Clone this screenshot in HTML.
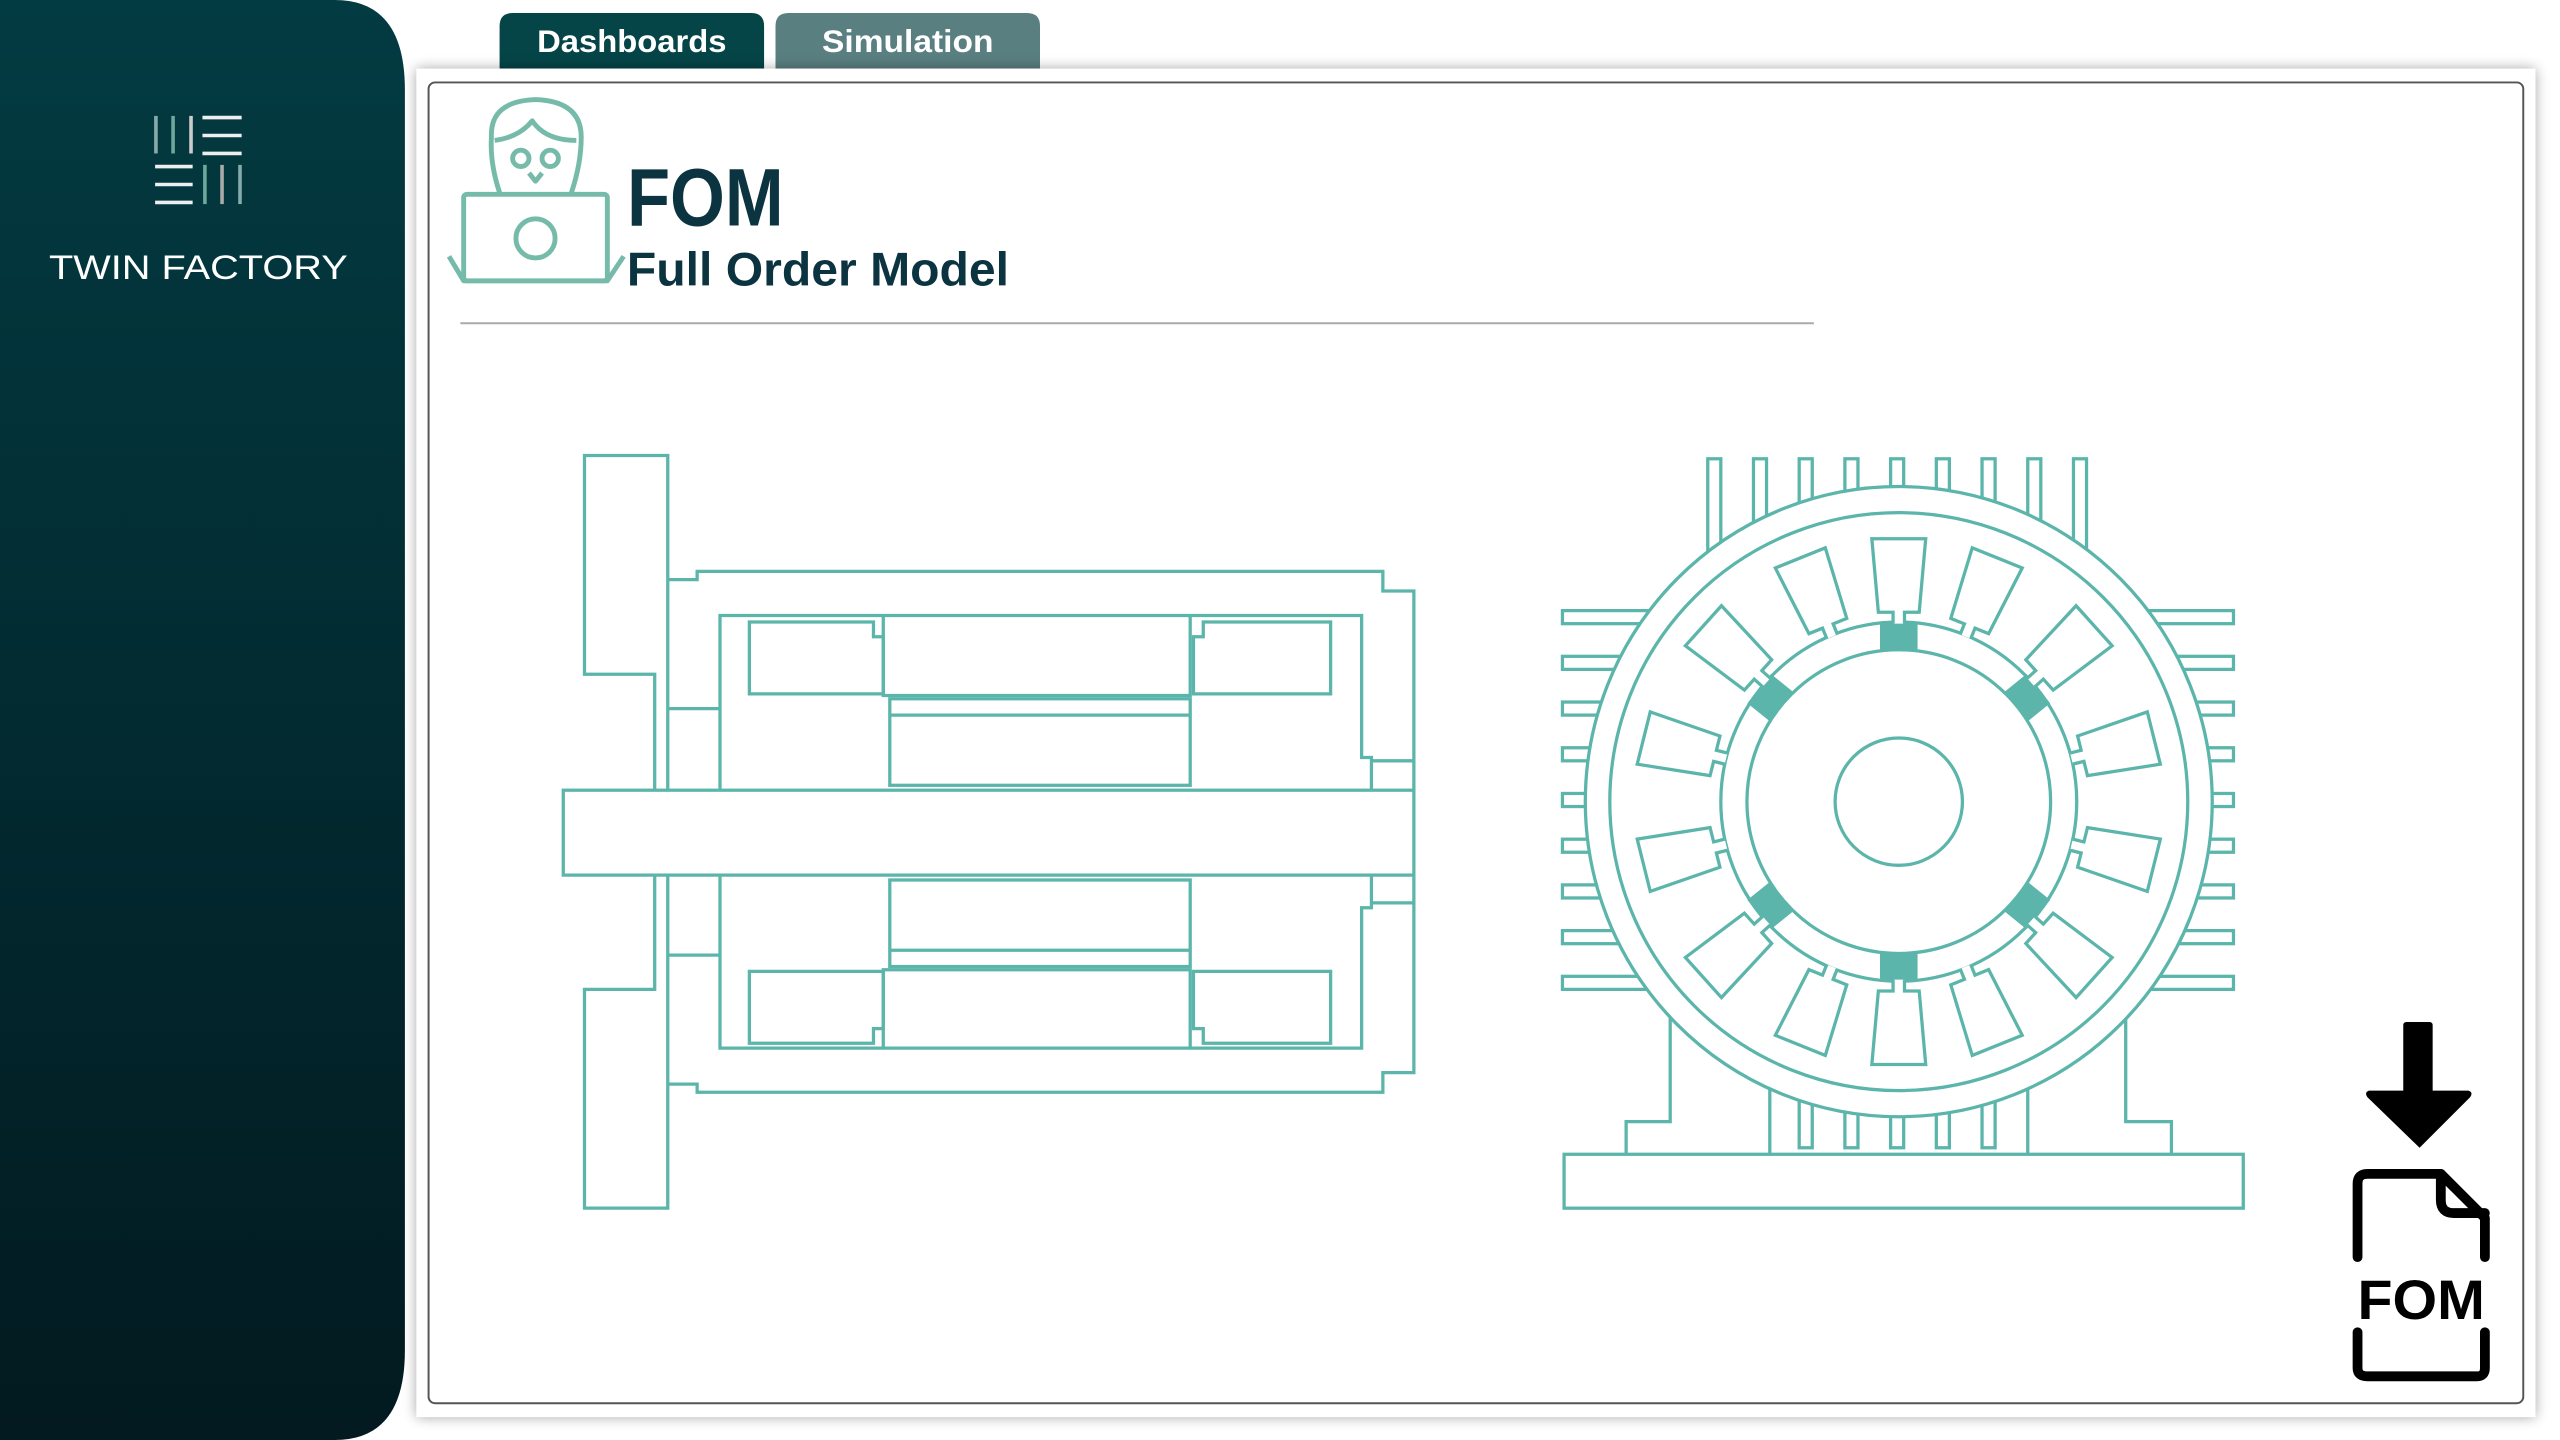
<!DOCTYPE html>
<html><head><meta charset="utf-8"><style>
html,body{margin:0;padding:0;background:#fff;width:2560px;height:1440px;overflow:hidden}
svg{display:block}
</style></head><body>
<svg width="2560" height="1440" viewBox="0 0 1568 882" xmlns="http://www.w3.org/2000/svg" font-family="'Liberation Sans', sans-serif">
<defs>
<linearGradient id="sb" x1="0" y1="0" x2="0" y2="1">
<stop offset="0" stop-color="#033b42"/><stop offset="1" stop-color="#021a20"/></linearGradient>
<filter id="sh" x="-5%" y="-5%" width="110%" height="110%"><feGaussianBlur stdDeviation="4"/></filter>
</defs>
<rect width="1568" height="882" fill="#fff"/>
<!-- sidebar -->
<path d="M0,0 H205 Q248,0 248,55 V827 Q248,882 205,882 H0 Z" fill="url(#sb)"/>
<g stroke-width="2.2">
<line x1="95.5" y1="71" x2="95.5" y2="94" stroke="#8aa"/>
<line x1="106" y1="71" x2="106" y2="94" stroke="#6fa89a"/>
<line x1="117" y1="71" x2="117" y2="94" stroke="#ccc"/>
<line x1="124" y1="72" x2="148" y2="72" stroke="#eee"/>
<line x1="124" y1="83" x2="148" y2="83" stroke="#eee"/>
<line x1="124" y1="94" x2="148" y2="94" stroke="#eee"/>
<line x1="95" y1="102" x2="118" y2="102" stroke="#eee"/>
<line x1="95" y1="113" x2="118" y2="113" stroke="#eee"/>
<line x1="95" y1="124" x2="118" y2="124" stroke="#eee"/>
<line x1="125.5" y1="101" x2="125.5" y2="125" stroke="#6fa89a"/>
<line x1="136" y1="101" x2="136" y2="125" stroke="#aaa"/>
<line x1="147" y1="101" x2="147" y2="125" stroke="#8aa"/>
</g>
<text x="30" y="171" font-size="21" fill="#fff" textLength="183" lengthAdjust="spacingAndGlyphs">TWIN FACTORY</text>
<!-- tabs -->
<path d="M306,42 V16 Q306,8 314,8 H460 Q468,8 468,16 V42 Z" fill="#054548"/>
<path d="M475,42 V16 Q475,8 483,8 H629 Q637,8 637,16 V42 Z" fill="#5a7f80"/>
<text x="387" y="32" font-size="19" font-weight="bold" fill="#fff" text-anchor="middle" textLength="116" lengthAdjust="spacingAndGlyphs">Dashboards</text>
<text x="556" y="32" font-size="19" font-weight="bold" fill="#fff" text-anchor="middle" textLength="105" lengthAdjust="spacingAndGlyphs">Simulation</text>
<!-- panel -->
<rect x="255" y="42" width="1298" height="826" fill="#000" opacity="0.35" filter="url(#sh)"/>
<rect x="255" y="42" width="1298" height="826" fill="#fff"/>
<rect x="262.5" y="50.5" width="1283" height="809" rx="4" fill="#fff" stroke="#555" stroke-width="1.2"/>
<!-- person icon -->
<g stroke="#76bba9" stroke-width="3" fill="#fff" stroke-linejoin="round">
<path d="M306,118 Q300,100 301,84 Q300,62 328,61 Q356,62 356,84 Q356,100 350,118"/>
<path d="M303,86 Q318,84 326,74 Q334,86 353,86"/>
<circle cx="319" cy="97" r="5"/><circle cx="337" cy="97" r="5"/>
<path d="M324,106 L328,111 L332,106"/>
<path d="M275,157 L284,172 H372 L382,157"/>
<rect x="284" y="119" width="88" height="53" rx="2"/>
<circle cx="328" cy="146" r="12"/>
</g>
<text x="384" y="138" font-size="50" font-weight="bold" fill="#0b3440" textLength="96" lengthAdjust="spacingAndGlyphs">FOM</text>
<text x="384" y="175" font-size="29" font-weight="bold" fill="#0b3440" textLength="234" lengthAdjust="spacingAndGlyphs">Full Order Model</text>
<line x1="282" y1="198" x2="1111" y2="198" stroke="#aaa" stroke-width="1.2"/>
<!-- left motor -->
<g stroke="#5bb5aa" stroke-width="2" fill="none">
<path d="M409,484 V279 H358 V413 H401 V484"/>
<path d="M409,536 V740 H358 V606 H401 V536"/>
<path d="M409,355 H427 V350 H847 V362 H866 V484"/>
<path d="M409,664 H427 V669 H847 V657 H866 V536"/>
<path d="M441,484 V377 H834 V464 H840 V484"/>
<path d="M441,536 V642 H834 V556 H840 V536"/>
<line x1="409" y1="434" x2="441" y2="434"/><line x1="409" y1="585" x2="441" y2="585"/>
<line x1="840" y1="466" x2="866" y2="466"/><line x1="840" y1="553" x2="866" y2="553"/>
<path d="M459,381 H535 V390 H541 V425 H459 Z"/>
<path d="M541,377 V426 H729 V377"/>
<path d="M815,381 H737 V390 H731 V425 H815 Z"/>
<rect x="545" y="428" width="184" height="53"/><line x1="545" y1="438" x2="729" y2="438"/>
<path d="M459,639 H535 V630 H541 V595 H459 Z"/>
<path d="M541,642 V594 H729 V642"/>
<path d="M815,639 H737 V630 H731 V595 H815 Z"/>
<rect x="545" y="539" width="184" height="53"/><line x1="545" y1="582" x2="729" y2="582"/>
<rect x="345" y="484" width="521" height="52"/>
</g>
<!-- right motor -->
<g stroke="#5bb5aa" stroke-width="2" fill="#fff">
<path d="M1023,600 V687 H996 V707 M1302,600 V687 H1330 V707" fill="none"/>
<path d="M1084,620 V707 M1242,620 V707" fill="none"/>
<g>
<rect x="1046" y="281" width="8" height="70"/><rect x="1074" y="281" width="8" height="60"/><rect x="1102" y="281" width="8" height="50"/><rect x="1130" y="281" width="8" height="40"/><rect x="1158" y="281" width="8" height="40"/><rect x="1186" y="281" width="8" height="40"/><rect x="1214" y="281" width="8" height="50"/><rect x="1242" y="281" width="8" height="60"/><rect x="1270" y="281" width="8" height="70"/>
<rect x="1102" y="650" width="8" height="53"/><rect x="1130" y="650" width="8" height="53"/><rect x="1158" y="650" width="8" height="53"/><rect x="1186" y="650" width="8" height="53"/><rect x="1214" y="650" width="8" height="53"/>
<rect x="957" y="374" width="70" height="8"/><rect x="957" y="402" width="50" height="8"/><rect x="957" y="430" width="40" height="8"/><rect x="957" y="458" width="40" height="8"/><rect x="957" y="486" width="40" height="8"/><rect x="957" y="514" width="40" height="8"/><rect x="957" y="542" width="40" height="8"/><rect x="957" y="570" width="50" height="8"/><rect x="957" y="598" width="70" height="8"/>
<rect x="1298" y="374" width="70" height="8"/><rect x="1318" y="402" width="50" height="8"/><rect x="1328" y="430" width="40" height="8"/><rect x="1328" y="458" width="40" height="8"/><rect x="1328" y="486" width="40" height="8"/><rect x="1328" y="514" width="40" height="8"/><rect x="1328" y="542" width="40" height="8"/><rect x="1318" y="570" width="50" height="8"/><rect x="1298" y="598" width="70" height="8"/>
</g>
<rect x="958" y="707" width="416" height="33"/>
<ellipse cx="1163" cy="491" rx="192" ry="193"/>
<ellipse cx="1163" cy="491" rx="177" ry="177"/>
<ellipse cx="1163" cy="491" rx="109" ry="110"/>
<ellipse cx="1163" cy="491" rx="93" ry="93"/>
<ellipse cx="1163" cy="491" rx="39" ry="39"/>
<g fill="#5bb5aa" stroke="none">
<rect x="1151.5" y="381" width="23" height="17" transform="rotate(0 1163 491)"/>
<rect x="1151.5" y="381" width="23" height="17" transform="rotate(180 1163 491)"/>
<rect x="1151.5" y="381" width="23" height="17" transform="rotate(51 1163 491)"/>
<rect x="1151.5" y="381" width="23" height="17" transform="rotate(-51 1163 491)"/>
<rect x="1151.5" y="381" width="23" height="17" transform="rotate(129 1163 491)"/>
<rect x="1151.5" y="381" width="23" height="17" transform="rotate(-129 1163 491)"/>
</g>
<g>
<path id="slot" d="M1159.5,382 V375 H1150.5 L1146.5,330 H1179.5 L1175.5,375 H1166.5 V382"/>
<use href="#slot" transform="rotate(22 1163 491)"/>
<use href="#slot" transform="rotate(48 1163 491)"/>
<use href="#slot" transform="rotate(76 1163 491)"/>
<use href="#slot" transform="rotate(104 1163 491)"/>
<use href="#slot" transform="rotate(132 1163 491)"/>
<use href="#slot" transform="rotate(158 1163 491)"/>
<use href="#slot" transform="rotate(180 1163 491)"/>
<use href="#slot" transform="rotate(-22 1163 491)"/>
<use href="#slot" transform="rotate(-48 1163 491)"/>
<use href="#slot" transform="rotate(-76 1163 491)"/>
<use href="#slot" transform="rotate(-104 1163 491)"/>
<use href="#slot" transform="rotate(-132 1163 491)"/>
<use href="#slot" transform="rotate(-158 1163 491)"/>
</g>
</g>
<!-- download icon -->
<path d="M1472,628 Q1472,626 1474,626 H1488 Q1490,626 1490,628 V668 H1512 Q1515,669 1513,672 L1482,703 L1450,672 Q1448,669 1451,668 H1472 Z" fill="#000"/>
<g stroke="#000" stroke-width="6" fill="none" stroke-linecap="round" stroke-linejoin="round">
<path d="M1444,770 V725 Q1444,719 1450,719 H1495 L1522,746 V770"/>
<path d="M1495,719 V735 Q1495,743 1503,743 H1522"/>
<path d="M1444,816 V838 Q1444,843 1450,843 H1517 Q1522,843 1522,838 V816"/>
</g>
<text x="1483" y="808" font-size="34" font-weight="bold" fill="#000" text-anchor="middle" textLength="78" lengthAdjust="spacingAndGlyphs">FOM</text>
</svg>
</body></html>
